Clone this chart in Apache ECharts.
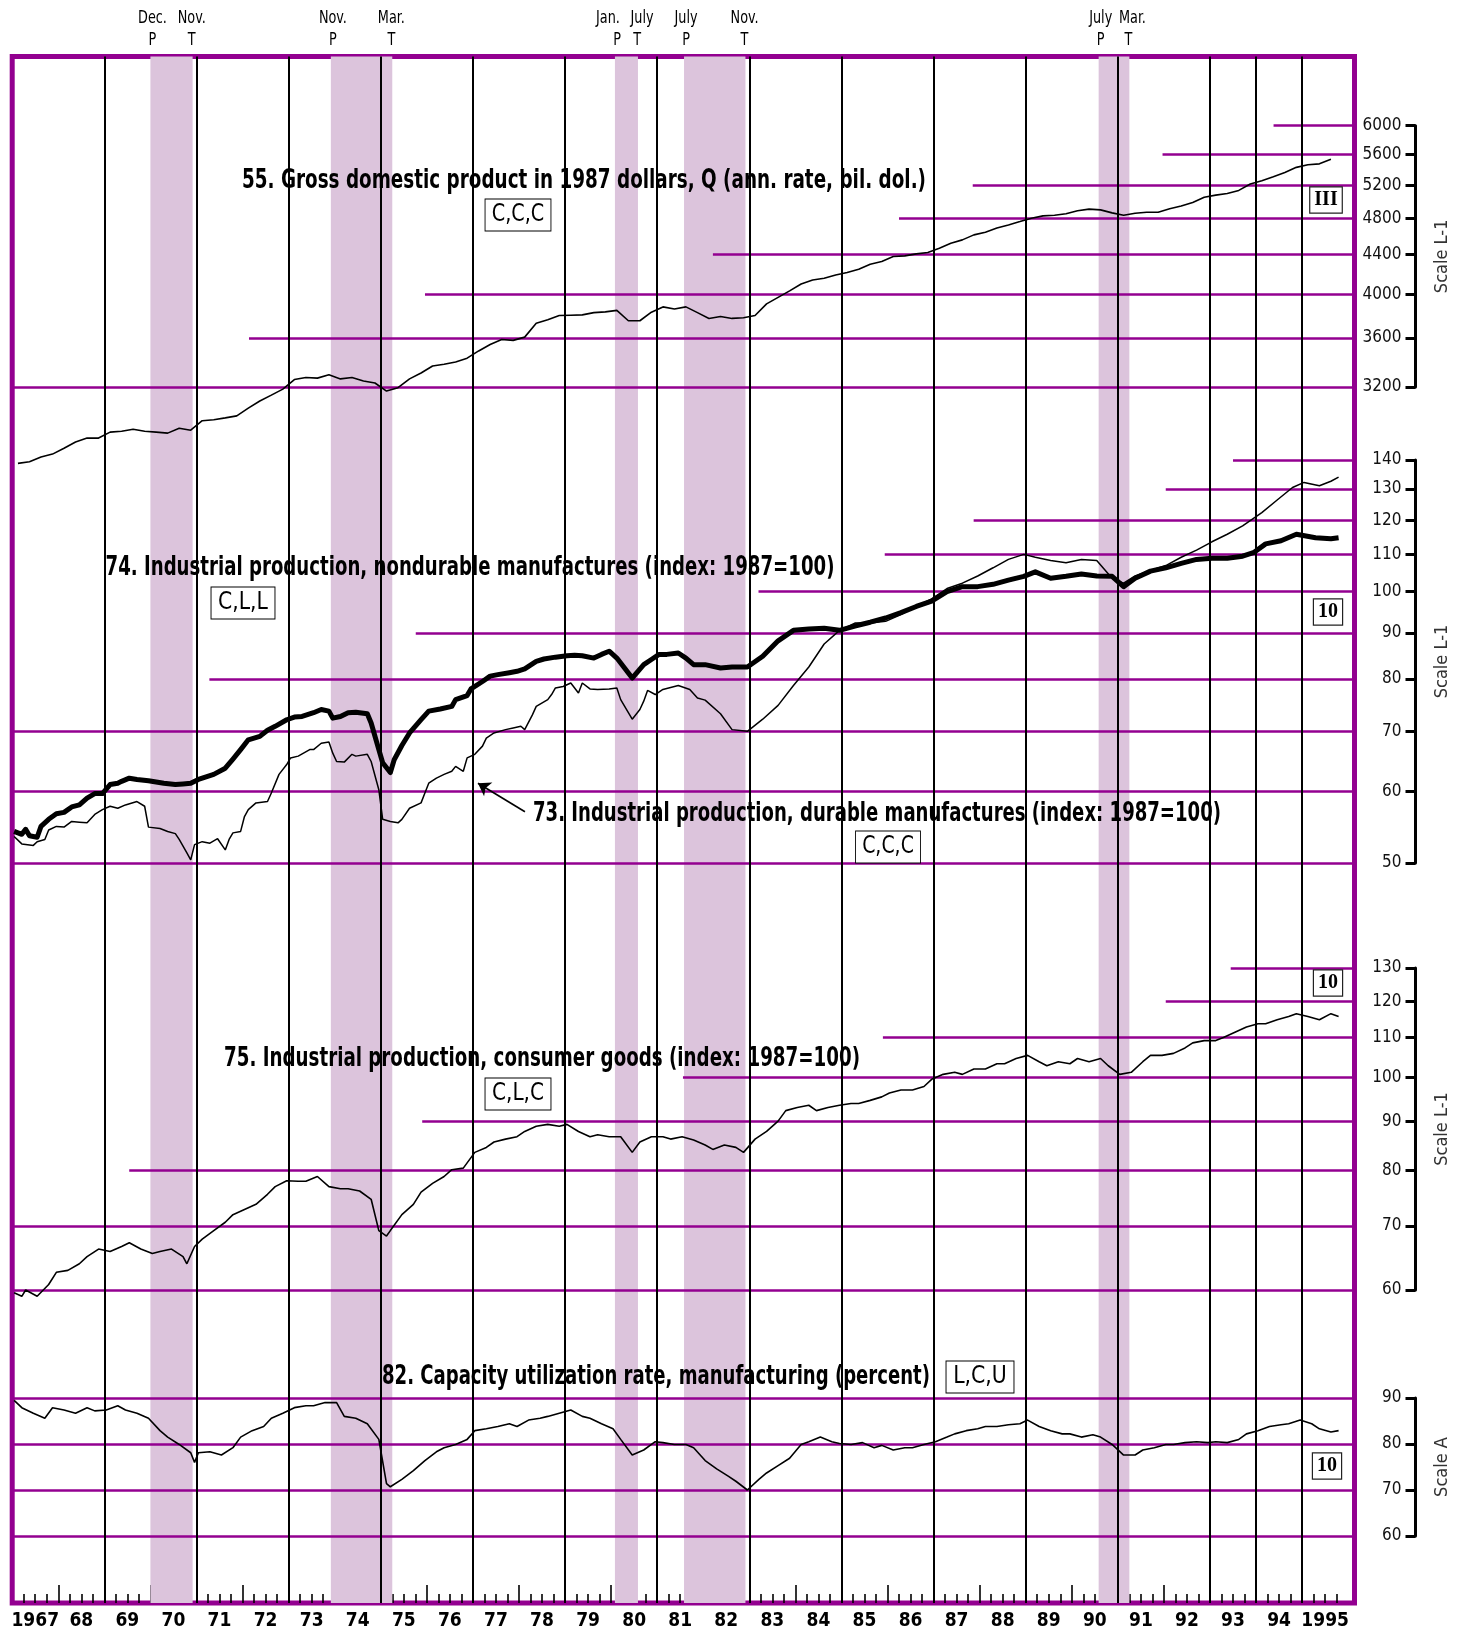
<!DOCTYPE html>
<html><head><meta charset="utf-8">
<script src="https://cdn.jsdelivr.net/npm/echarts@6/dist/echarts.min.js"></script>
<style>html,body{margin:0;padding:0;background:#fff}#c{width:1462px;height:1635px}</style>
</head><body><div id="c"></div>
<script>
// ================= DATA =================
// 55. GDP in 1987 dollars, quarterly, 1967 Q1 .. 1995 Q3
const gdpFirstYear = 1967;
const gdpValues = [
  2663,2673,2704,2723, 2762,2803,2830,2830, 2871,2877,2891,2877, 2871,2864,2898,2884,
  2951,2958,2971,2985, 3041,3094,3138,3184, 3258,3274,3269,3295, 3263,3274,3247,3231,
  3169,3195,3263,3310, 3366,3380,3399,3430, 3490,3544,3588,3580, 3608,3731,3762,3800,
  3803,3806,3827,3834, 3848,3753,3753,3831, 3880,3861,3880,3827, 3774,3792,3774,3780,
  3801,3908,3970,4033, 4100,4140,4157,4190, 4214,4248,4300,4327, 4380,4387,4408,4422,
  4468,4522,4559,4614, 4644,4690,4726,4764, 4803,4830,4838,4854, 4889,4909,4900,4865,
  4838,4861,4873,4873, 4913,4945,4989,5052, 5077,5098,5135,5215, 5256,5307,5361,5428,
  5461,5474,5535
];
// 74. IP nondurable manufactures (index 1987=100)
const ip74 = [
 ['1967-01',54.2],['1967-03',53.8],['1967-04',54.5],['1967-05',53.6],['1967-07',53.4],['1967-08',54.9],['1967-10',55.9],['1967-12',56.7],
 ['1968-02',56.9],['1968-04',57.7],['1968-06',58.0],['1968-08',59.0],['1968-10',59.7],['1968-12',59.7],
 ['1969-02',61.1],['1969-04',61.3],['1969-05',61.6],['1969-07',62.1],['1969-09',61.9],['1969-12',61.7],
 ['1970-02',61.5],['1970-04',61.3],['1970-07',61.1],['1970-09',61.2],['1970-11',61.3],
 ['1971-01',61.9],['1971-03',62.3],['1971-05',62.7],['1971-08',63.7],['1971-10',65.2],['1971-12',66.8],
 ['1972-02',68.5],['1972-05',69.1],['1972-07',70.2],['1972-09',70.9],['1972-12',72.1],
 ['1973-02',72.6],['1973-04',72.7],['1973-07',73.4],['1973-09',74.0],['1973-11',73.7],['1973-12',72.4],
 ['1974-02',72.7],['1974-04',73.4],['1974-06',73.5],['1974-09',73.2],['1974-10',71.5],['1974-12',66.8],
 ['1975-01',64.6],['1975-03',63.0],['1975-04',65.1],['1975-06',67.5],['1975-08',69.7],['1975-11',72.1],
 ['1976-01',73.7],['1976-04',74.1],['1976-07',74.6],['1976-08',75.9],['1976-11',76.7],['1976-12',78.0],
 ['1977-03',79.5],['1977-05',80.6],['1977-07',80.9],['1977-10',81.3],['1977-12',81.6],
 ['1978-02',82.1],['1978-05',83.7],['1978-07',84.2],['1978-10',84.6],
 ['1979-01',84.9],['1979-03',85.0],['1979-05',84.9],['1979-08',84.4],['1979-10',85.2],['1979-12',85.9],
 ['1980-02',84.4],['1980-04',82.3],['1980-06',80.2],['1980-09',83.0],['1980-11',84.1],
 ['1981-01',85.2],['1981-03',85.2],['1981-06',85.5],['1981-08',84.4],['1981-10',83.0],
 ['1982-01',83.0],['1982-05',82.3],['1982-08',82.5],['1982-12',82.5],
 ['1983-04',84.8],['1983-08',88.2],['1983-12',90.6],['1984-04',90.9],['1984-08',91.1],['1984-12',90.6],
 ['1985-04',91.6],['1985-08',92.5],['1985-12',93.5],['1986-04',94.8],['1986-08',96.3],['1986-12',97.6],
 ['1987-04',100.0],['1987-08',101.3],['1987-12',101.3],['1988-04',101.9],['1988-08',103.0],['1988-12',104.0],
 ['1989-03',105.2],['1989-07',103.5],['1989-11',104.0],['1990-03',104.6],['1990-07',104.1],['1990-11',104.0],
 ['1991-02',101.3],['1991-05',103.5],['1991-09',105.4],['1992-01',106.3],['1992-05',107.5],['1992-09',108.6],
 ['1993-01',108.9],['1993-05',108.9],['1993-09',109.5],['1993-12',110.6],['1994-03',113.0],['1994-07',113.9],
 ['1994-11',115.8],['1995-04',114.8],['1995-08',114.5],['1995-10',114.8]
];
// 73. IP durable manufactures (index 1987=100)
const ip73 = [
 ['1967-01',53.5],['1967-03',52.5],['1967-06',52.3],['1967-07',52.8],['1967-09',53.1],['1967-10',54.4],['1967-12',54.9],
 ['1968-02',54.8],['1968-04',55.6],['1968-06',55.5],['1968-08',55.4],['1968-10',56.6],['1968-12',57.3],
 ['1969-02',57.8],['1969-04',57.5],['1969-06',58.0],['1969-09',58.5],['1969-11',57.8],['1969-12',54.8],
 ['1970-03',54.6],['1970-05',54.2],['1970-07',53.9],['1970-08',53.1],['1970-10',51.3],['1970-11',50.4],['1970-12',52.4],
 ['1971-02',52.8],['1971-04',52.6],['1971-06',53.2],['1971-08',51.7],['1971-09',53.1],['1971-10',54.0],['1971-12',54.2],
 ['1972-01',56.3],['1972-02',57.3],['1972-04',58.3],['1972-07',58.5],['1972-08',59.8],['1972-10',62.7],['1972-12',64.3],
 ['1973-01',65.4],['1973-03',65.7],['1973-06',66.8],['1973-07',66.8],['1973-09',67.9],['1973-11',68.1],['1973-12',66.2],
 ['1974-01',64.8],['1974-03',64.7],['1974-05',66.0],['1974-06',65.7],['1974-09',66.0],['1974-10',64.8],['1974-12',60.3],
 ['1975-01',55.9],['1975-03',55.6],['1975-05',55.4],['1975-06',55.9],['1975-08',57.5],['1975-11',58.3],['1975-12',59.8],
 ['1976-01',61.3],['1976-03',62.1],['1976-05',62.7],['1976-07',63.2],['1976-08',64.0],['1976-10',63.2],['1976-11',65.4],
 ['1977-01',66.0],['1977-03',67.4],['1977-04',68.8],['1977-06',69.7],['1977-09',70.3],['1977-11',70.6],
 ['1978-01',70.9],['1978-02',70.3],['1978-04',73.0],['1978-05',74.6],['1978-08',75.9],['1978-09',76.9],['1978-10',78.2],['1978-12',78.5],
 ['1979-02',79.2],['1979-04',77.2],['1979-05',79.2],['1979-07',78.0],['1979-09',77.9],['1979-12',78.0],
 ['1980-02',78.2],['1980-03',75.9],['1980-05',73.4],['1980-06',72.2],['1980-08',74.0],['1980-09',75.6],['1980-10',77.7],['1980-12',76.9],
 ['1981-02',77.9],['1981-05',78.5],['1981-06',78.7],['1981-09',77.9],['1981-11',76.2],
 ['1982-01',75.8],['1982-05',73.2],['1982-08',70.3],['1982-12',70.0],
 ['1983-04',72.2],['1983-08',74.8],['1983-12',78.7],['1984-04',82.5],['1984-08',87.5],['1984-12',90.6],
 ['1985-04',92.3],['1985-08',92.3],['1985-12',92.7],['1986-04',94.3],['1986-08',96.3],['1986-12',98.2],
 ['1987-04',100.8],['1987-08',102.2],['1987-12',104.1],['1988-04',106.3],['1988-08',108.6],['1988-12',110.0],
 ['1989-03',109.2],['1989-07',108.3],['1989-11',107.7],['1990-03',108.6],['1990-07',108.3],['1990-11',103.5],
 ['1991-02',102.2],['1991-05',104.1],['1991-09',105.6],['1992-01',106.9],['1992-05',109.2],['1992-09',111.2],
 ['1993-01',113.6],['1993-05',115.8],['1993-09',118.3],['1994-02',122.4],['1994-06',126.4],['1994-10',130.5],
 ['1995-01',132.2],['1995-05',131.1],['1995-08',132.6],['1995-10',134.0]
];
// 75. IP consumer goods (index 1987=100)
const ip75 = [
 ['1967-01',59.6],['1967-03',59.1],['1967-04',60.0],['1967-07',59.1],['1967-10',60.8],['1967-12',62.6],
 ['1968-03',62.9],['1968-06',63.9],['1968-08',65.0],['1968-11',66.2],['1969-02',65.8],['1969-05',66.6],['1969-07',67.2],['1969-10',66.2],
 ['1970-01',65.5],['1970-03',65.8],['1970-06',66.2],['1970-09',65.0],['1970-10',63.9],['1970-12',66.6],
 ['1971-02',67.8],['1971-05',69.2],['1971-08',70.6],['1971-10',71.9],['1972-01',72.8],['1972-04',73.7],['1972-07',75.5],['1972-09',76.9],['1972-12',78.0],
 ['1973-03',77.9],['1973-05',77.9],['1973-08',78.8],['1973-11',76.9],['1974-02',76.5],['1974-04',76.5],['1974-07',76.1],['1974-10',74.6],['1974-12',69.2],
 ['1975-02',68.3],['1975-03',69.2],['1975-06',71.9],['1975-09',73.7],['1975-11',75.9],['1976-02',77.5],['1976-05',78.8],['1976-07',80.1],['1976-10',80.4],
 ['1977-01',83.5],['1977-04',84.5],['1977-06',85.6],['1977-09',86.2],['1977-12',86.7],['1978-02',87.8],['1978-05',88.9],['1978-08',89.3],['1978-11',88.9],
 ['1979-01',89.3],['1979-04',87.8],['1979-07',86.7],['1979-09',87.1],['1979-12',86.7],['1980-03',86.7],['1980-06',83.5],['1980-08',85.6],['1980-11',86.7],
 ['1981-02',86.7],['1981-04',86.2],['1981-07',86.7],['1981-10',86.0],['1982-01',85.0],['1982-03',84.1],['1982-06',85.0],['1982-09',84.5],['1982-11',83.5],
 ['1983-02',86.2],['1983-05',87.8],['1983-08',90.0],['1983-10',92.3],['1984-01',93.0],['1984-04',93.5],['1984-06',92.3],['1984-09',93.0],['1984-12',93.5],
 ['1985-03',93.9],['1985-05',93.9],['1985-08',94.6],['1985-11',95.4],['1986-01',96.3],['1986-04',97.0],['1986-07',97.0],['1986-10',97.8],['1986-12',99.5],
 ['1987-03',100.7],['1987-06',101.2],['1987-08',100.7],['1987-11',102.0],['1988-02',102.0],['1988-05',103.3],['1988-07',103.3],['1988-10',104.6],
 ['1989-01',105.4],['1989-04',103.8],['1989-06',102.8],['1989-09',103.8],['1989-12',103.3],['1990-02',104.6],['1990-05',103.8],['1990-08',104.6],['1990-10',102.8],
 ['1991-01',100.7],['1991-04',101.2],['1991-07',103.8],['1991-09',105.4],['1991-12',105.4],['1992-03',105.9],['1992-06',107.3],['1992-08',108.6],['1992-11',109.2],
 ['1993-02',109.2],['1993-04',110.0],['1993-07',111.4],['1993-10',112.8],['1994-01',113.7],['1994-03',113.7],['1994-06',114.8],['1994-09',115.7],['1994-11',116.5],
 ['1995-02',115.7],['1995-05',114.8],['1995-08',116.5],['1995-10',115.7]
];
// 82. Capacity utilization rate, manufacturing (percent)
const cu82 = [
 ['1967-01',89.5],['1967-03',87.9],['1967-06',86.7],['1967-09',85.6],['1967-11',87.9],['1968-02',87.4],['1968-05',86.7],['1968-08',87.9],['1968-10',87.2],
 ['1969-01',87.4],['1969-04',88.3],['1969-06',87.4],['1969-09',86.7],['1969-12',85.6],['1970-03',82.9],['1970-05',81.5],['1970-08',79.9],['1970-11',78.1],['1970-12',76.0],
 ['1971-01',78.1],['1971-04',78.3],['1971-07',77.6],['1971-10',79.2],['1971-12',81.5],['1972-03',82.9],['1972-06',83.8],['1972-08',85.6],['1972-11',86.7],
 ['1973-02',87.9],['1973-05',88.3],['1973-07',88.3],['1973-10',89.0],['1974-01',89.0],['1974-03',86.0],['1974-06',85.6],['1974-09',84.4],['1974-12',81.0],
 ['1975-02',71.4],['1975-03',70.7],['1975-06',72.3],['1975-09',74.2],['1975-12',76.4],['1976-03',78.3],['1976-05',79.2],['1976-08',79.9],['1976-11',81.0],
 ['1977-01',82.9],['1977-04',83.3],['1977-07',83.8],['1977-10',84.4],['1977-12',83.8],['1978-03',85.2],['1978-06',85.6],['1978-08',86.0],['1978-11',86.7],
 ['1979-02',87.4],['1979-05',86.0],['1979-07',85.6],['1979-10',84.4],['1980-01',83.3],['1980-03',81.0],['1980-06',77.6],['1980-09',78.7],['1980-12',80.5],
 ['1981-02',80.3],['1981-05',79.9],['1981-08',79.9],['1981-10',79.2],['1982-01',76.4],['1982-04',74.6],['1982-07',73.0],['1982-09',71.9],['1982-12',70.0],
 ['1983-03',72.3],['1983-05',73.7],['1983-08',75.3],['1983-11',76.9],['1984-02',79.9],['1984-04',80.5],['1984-07',81.5],['1984-10',80.5],['1984-12',80.1],
 ['1985-03',79.9],['1985-06',80.3],['1985-09',79.2],['1985-11',79.7],['1986-02',78.7],['1986-05',79.2],['1986-07',79.2],['1986-10',79.9],
 ['1987-01',80.5],['1987-04',81.5],['1987-06',82.2],['1987-09',82.9],['1987-12',83.3],['1988-02',83.8],['1988-05',83.8],['1988-08',84.2],['1988-11',84.4],
 ['1989-01',85.2],['1989-04',83.8],['1989-07',82.9],['1989-10',82.2],['1989-12',82.2],['1990-03',81.5],['1990-06',82.0],['1990-08',81.5],['1990-11',79.9],
 ['1991-02',77.6],['1991-05',77.6],['1991-07',78.7],['1991-10',79.2],['1992-01',79.9],['1992-03',79.9],['1992-06',80.3],['1992-09',80.5],['1992-12',80.3],
 ['1993-02',80.5],['1993-05',80.3],['1993-08',81.0],['1993-10',82.2],['1994-01',82.9],['1994-04',83.8],['1994-07',84.2],['1994-09',84.4],['1994-12',85.2],
 ['1995-03',84.4],['1995-05',83.3],['1995-08',82.6],['1995-10',82.9]
];
// Business-cycle reference dates
const peaks = ['1969-12','1973-11','1980-01','1981-07','1990-07'];
const troughs = ['1970-11','1975-03','1980-07','1982-11','1991-03'];
const peakNames = ['Dec.','Nov.','Jan.','July','July'];
const troughNames = ['Nov.','Mar.','July','Nov.','Mar.'];
// Axis tick values
const gdpTicks = [3200,3600,4000,4400,4800,5200,5600,6000];
const ipTicks = [50,60,70,80,90,100,110,120,130,140];
const cgTicks = [60,70,80,90,100,110,120,130];
const cuTicks = [60,70,80,90];
const yearLines = [1969,1971,1973,1975,1977,1979,1981,1983,1985,1987,1989,1991,1993,1994,1995];

// ================= LAYOUT / STYLE =================
const NARROW = '"Liberation Sans Narrow","Arial Narrow","DejaVu Sans Condensed","Roboto Condensed",Roboto,sans-serif';
const SERIF = '"Liberation Serif","DejaVu Serif",serif';
const PURPLE = '#930090';
const SHADE = '#dcc4dc';
const X_MIN = 1967, X_MAX = 1996.137;
const G_LEFT = 12.2, G_RIGHT = 107.5;
const gdpLineFrom = [1967,1972.14,1975.96,1982.21,1986.25,1987.85,1991.97,1994.38];
const ipLineFrom  = [1967,1967,1967,1971.28,1975.76,1983.2,1985.94,1987.87,1992.04,1993.5];
const cgLineFrom  = [1967,1967,1969.54,1975.9,1981.56,1985.9,1992.04,1993.45];
const cuLineFrom  = [1967,1967,1967,1967];

function monthMid(s){const p=s.split('-').map(Number);return p[0]+(p[1]-0.5)/12;}
function monthEnd(s){const p=s.split('-').map(Number);return p[0]+p[1]/12;}
const toXY = arr => arr.map(d => [monthMid(d[0]), d[1]]);
const gdpData = gdpValues.map((v,i) => [gdpFirstYear + (i+0.5)/4, v]);

const panels = [
  {top:125.7, height:261.3, type:'log',   min:3200, max:6000, ticks:gdpTicks, from:gdpLineFrom, name:'Scale L-1'},
  {top:460,   height:403,   type:'log',   min:50,   max:140,  ticks:ipTicks,  from:ipLineFrom,  name:'Scale L-1'},
  {top:968,   height:322,   type:'log',   min:60,   max:130,  ticks:cgTicks,  from:cgLineFrom,  name:'Scale L-1'},
  {top:1398,  height:138,   type:'value', min:60,   max:90,   ticks:cuTicks,  from:cuLineFrom,  name:'Scale A'}
];

const quarterTicks = [], yearTicks = [], yearMids = [];
for (let y = 1967; y <= 1995; y++) {
  [0.25,0.5,0.75].forEach(q => quarterTicks.push(y+q));
  if (y > 1967) yearTicks.push(y);
  yearMids.push(y + 0.5);
}

// text measuring, used to squeeze text to the condensed widths of the original
const mctx = document.createElement('canvas').getContext('2d');
function textW(font, text){ mctx.font = font; return mctx.measureText(text).width; }

const grids = [
  {left:G_LEFT, right:G_RIGHT, top:56.5, bottom:32, show:true, borderColor:PURPLE, borderWidth:5, backgroundColor:'transparent'}
];
panels.forEach(p => grids.push({left:G_LEFT, right:G_RIGHT, top:p.top, height:p.height}));
grids.push({left:G_LEFT, right:G_RIGHT, top:56.5, bottom:32, show:false});

const xAxes = [
  {gridIndex:0, type:'value', min:X_MIN, max:X_MAX, position:'bottom',
   axisLine:{show:false}, splitLine:{show:false},
   axisTick:{show:true, inside:true, length:9, customValues:quarterTicks, lineStyle:{color:'#000', width:1.6}},
   axisLabel:{show:true, customValues:yearMids, margin:9, fontFamily:NARROW, fontSize:19, fontWeight:'bold', color:'#000',
     formatter: v => { const y = Math.floor(v); return (y===1967||y===1995) ? String(y) : String(y).slice(2); }}}
];
panels.forEach((p,i) => xAxes.push({gridIndex:i+1, type:'value', min:X_MIN, max:X_MAX, show:false}));
xAxes.push({gridIndex:5, type:'value', min:X_MIN, max:X_MAX, position:'bottom',
  axisLine:{show:false}, splitLine:{show:false}, axisLabel:{show:false},
  axisTick:{show:true, inside:true, length:18, customValues:yearTicks, lineStyle:{color:'#000', width:1.6}}});

const yAxes = [{gridIndex:0, type:'value', min:0, max:1, show:false}];
panels.forEach((p,i) => yAxes.push({
  gridIndex:i+1, type:p.type, logBase:10, min:p.min, max:p.max, position:'right', offset:61,
  axisLine:{show:true, lineStyle:{color:'#000', width:3}},
  axisTick:{show:true, inside:true, length:10, customValues:p.ticks, lineStyle:{color:'#000', width:3}},
  axisLabel:{show:true, inside:true, margin:14, customValues:p.ticks, fontFamily:NARROW, fontSize:17, color:'#111',
    formatter: v => String(Math.round(v))},
  splitLine:{show:false}, minorTick:{show:false},
  name:p.name, nameLocation:'middle', nameRotate:90, nameGap:18,
  nameTextStyle:{fontFamily:NARROW, fontSize:18, color:'#333'}
}));
yAxes.push({gridIndex:5, type:'value', min:0, max:1, show:false});

const series = [];
series.push({type:'line', xAxisIndex:0, yAxisIndex:0, data:[], z:1, silent:true,
  markArea:{silent:true, itemStyle:{color:SHADE, opacity:1},
    data: peaks.map((p,i) => [{xAxis: monthEnd(p)}, {xAxis: monthEnd(troughs[i])}])}});
panels.forEach((p,i) => series.push({type:'line', xAxisIndex:i+1, yAxisIndex:i+1, data:[], z:2, silent:true,
  markLine:{silent:true, symbol:['none','none'], label:{show:false}, animation:false,
    lineStyle:{color:PURPLE, width:2.5, type:'solid', opacity:1},
    data: p.ticks.map((v,k) => [{coord:[p.from[k], v]}, {coord:[X_MAX, v]}])}}));
series.push({type:'line', xAxisIndex:0, yAxisIndex:0, data:[], z:3, silent:true,
  markLine:{silent:true, symbol:['none','none'], label:{show:false}, animation:false,
    lineStyle:{color:'#000', width:2, type:'solid', opacity:1},
    data: yearLines.map(y => ({xAxis:y}))}});
const lineBase = {type:'line', showSymbol:false, symbol:'none', clip:false, silent:true, z:5, animation:false};
series.push(Object.assign({}, lineBase, {name:'55', xAxisIndex:1, yAxisIndex:1, data:gdpData, lineStyle:{color:'#000', width:1.6}}));
series.push(Object.assign({}, lineBase, {name:'73', xAxisIndex:2, yAxisIndex:2, data:toXY(ip73), lineStyle:{color:'#000', width:1.5},
  markLine:{silent:true, symbol:['none','arrow'], symbolSize:12, label:{show:false}, animation:false,
    lineStyle:{color:'#000', width:1.6, type:'solid'},
    data:[[{coord:[1978.13, 57.0]}, {coord:[1977.11, 61.3]}]]}}));
series.push(Object.assign({}, lineBase, {name:'74', xAxisIndex:2, yAxisIndex:2, data:toXY(ip74), lineStyle:{color:'#000', width:5, join:'round'}}));
series.push(Object.assign({}, lineBase, {name:'75', xAxisIndex:3, yAxisIndex:3, data:toXY(ip75), lineStyle:{color:'#000', width:1.6}}));
series.push(Object.assign({}, lineBase, {name:'82', xAxisIndex:4, yAxisIndex:4, data:toXY(cu82), lineStyle:{color:'#000', width:1.6}}));

const TITLE_FONT = 'bold 26px ' + NARROW;
const BOX_FONT = '24px ' + NARROW;
function title(text, x, y, w){
  const s = Math.min(1, w / textW(TITLE_FONT, text));
  return {type:'text', x, y, scaleX:s, z:50, style:{text, font:TITLE_FONT, fill:'#000', align:'center', verticalAlign:'middle'}};
}
function box(text, x, y, w){
  const s = Math.min(1, w / (textW(BOX_FONT, text) + 14));
  return {type:'text', x, y, scaleX:s, z:50, style:{text, font:BOX_FONT, fill:'#000', align:'center', verticalAlign:'middle',
    backgroundColor:'#fff', borderColor:'#000', borderWidth:1, padding:[4,7,3,7]}};
}
function serifBox(text, x, y){return {type:'text', x, y, z:50, style:{text, font:'bold 20px '+SERIF, fill:'#000', align:'center', verticalAlign:'middle',
  backgroundColor:'#fff', borderColor:'#222', borderWidth:1.2, padding:[3,4,2,4]}};}

const graphics = [
  title('55. Gross domestic product in 1987 dollars, Q (ann. rate, bil. dol.)', 584, 181, 684), box('C,C,C', 518, 215, 65),
  title('74. Industrial production, nondurable manufactures (index: 1987=100)', 470, 568, 729), box('C,L,L', 243, 603, 63),
  title('73. Industrial production, durable manufactures (index: 1987=100)', 877, 814, 688), box('C,C,C', 888, 847, 64),
  title('75. Industrial production, consumer goods (index: 1987=100)', 542, 1059, 636), box('C,L,C', 518, 1094, 65),
  title('82. Capacity utilization rate, manufacturing (percent)', 656, 1377, 548), box('L,C,U', 980, 1377, 67),
  serifBox('III', 1326, 200), serifBox('10', 1328, 612), serifBox('10', 1328, 983), serifBox('10', 1327, 1466)
];

const chart = echarts.init(document.getElementById('c'), null, {renderer:'canvas'});
chart.setOption({animation:false, backgroundColor:'#fff', grid:grids, xAxis:xAxes, yAxis:yAxes, series:series, graphic:graphics});

// peak / trough labels placed via the x scale
const TOP_FONT = '18px ' + NARROW;
const topScale = Math.min(1, 28 / textW(TOP_FONT, 'Nov.'));
const peakNameShift = [0,0,-9,0,0], troughNameShift = [0,0,5,0,4];
const topText = (text, x, y) => ({type:'text', x, y, scaleX:topScale, z:50, style:{text, font:TOP_FONT, fill:'#000', align:'center', verticalAlign:'middle'}});
const extra = [];
peaks.forEach((p,i) => {
  const x = chart.convertToPixel({xAxisIndex:0}, monthMid(p)) + 4;
  extra.push(topText(peakNames[i], x + peakNameShift[i], 18), topText('P', x, 40));
});
troughs.forEach((t,i) => {
  const x = chart.convertToPixel({xAxisIndex:0}, monthMid(t)) + 1;
  extra.push(topText(troughNames[i], x + troughNameShift[i], 18), topText('T', x, 40));
});
chart.setOption({graphic: graphics.concat(extra)});
</script></body></html>
